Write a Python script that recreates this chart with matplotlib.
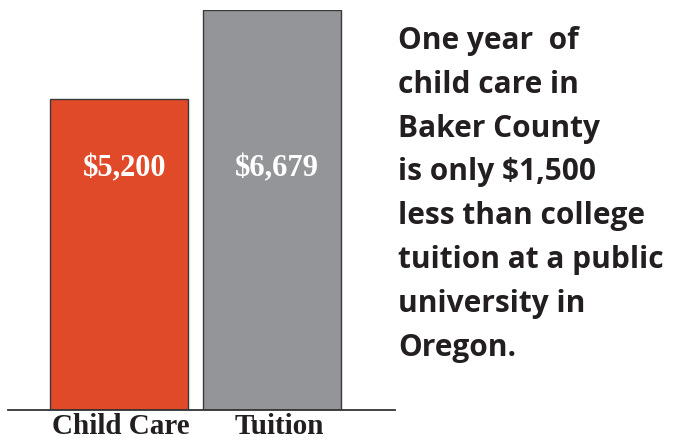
import matplotlib
matplotlib.use("Agg")
import matplotlib.pyplot as plt

# chart data
categories = ["Child Care", "Tuition"]
costs = [5200, 6679]
cost_labels = ["$5,200", "$6,679"]
bar_colors = ["#E04A28", "#939598"]

note_lines = [
    "One year  of",
    "child care in",
    "Baker County",
    "is only $1,500",
    "less than college",
    "tuition at a public",
    "university in",
    "Oregon.",
]

W, H = 675, 442
fig = plt.figure(figsize=(W / 100, H / 100), dpi=100)

# axes spans baseline (y=410 px) up to tallest bar top (y=10 px)
ax = fig.add_axes([8 / W, (H - 410) / H, (395 - 8) / W, 400 / H])
x = list(range(len(categories)))
ax.bar(x, costs, width=0.902, color=bar_colors, edgecolor="#3a3a3a", linewidth=1.0)
ax.set_xlim(-0.725, 1.804)
ax.set_ylim(0, max(costs))
for s in ["top", "right", "left"]:
    ax.spines[s].set_visible(False)
ax.spines["bottom"].set_linewidth(1.3)
ax.spines["bottom"].set_color("#333333")
ax.set_yticks([])
# labels in the original sit a little right of the bar centres
ax.set_xticks([0.013, 1.046])
ax.set_xticklabels(categories, family="Liberation Serif", fontweight="bold",
                   fontsize=21, color="#231f20")
ax.tick_params(axis="x", length=0, pad=2)

# value labels inside bars
for xi, label in zip(x, cost_labels):
    ax.text(xi + 0.035, 4020, label, ha="center", va="center", color="white",
            family="Liberation Serif", fontweight="bold", fontsize=22)

# side note
for i, line in enumerate(note_lines):
    fig.text(398 / W, 1 - (41 + i * 43.8) / H, line, ha="left", va="center",
             family="Open Sans", fontweight="bold", fontsize=21.5, color="#231f20")

fig.savefig("out.png", dpi=100)
